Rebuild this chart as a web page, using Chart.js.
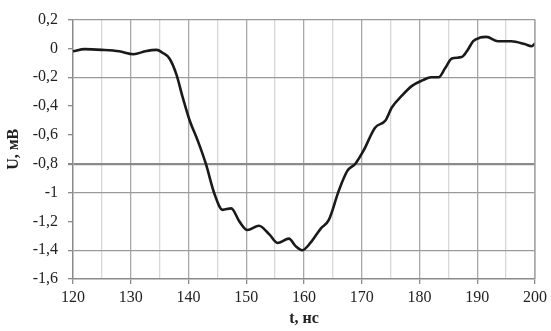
<!DOCTYPE html>
<html>
<head>
<meta charset="utf-8">
<script src="https://cdn.jsdelivr.net/npm/chart.js@4/dist/chart.umd.min.js"></script>
<style>
  html, body { margin: 0; padding: 0; background: #fff; }
  #wrap { width: 551px; height: 331px; }
</style>
</head>
<body>
<div id="wrap"><canvas id="myChart" width="551" height="331"></canvas></div>
<script>
// time, ns
var times = [120, 122, 125, 128, 130.5, 132.5, 134.5, 135.5, 136.7, 137.9, 139, 140.2, 141.6, 143,
  144.5, 145.9, 147.4, 148.8, 150.2, 152.2, 154, 155.4, 157.4, 158.5, 159.7, 161.1, 162.9, 164.3,
  166, 167.5, 168.9, 170.3, 172.3, 174.1, 175.2, 176.9, 178.7, 180.6, 182, 183.3, 184.4, 185.6,
  187.3, 188.2, 189.3, 190.5, 191.6, 193.6, 195.9, 198.2, 199.4, 200];
// voltage, mV
var voltage = [-0.02, -0.005, -0.01, -0.02, -0.04, -0.02, -0.01, -0.03, -0.07, -0.18, -0.34, -0.5, -0.64, -0.8,
  -1.01, -1.12, -1.11, -1.2, -1.26, -1.23, -1.29, -1.35, -1.32, -1.37, -1.4, -1.35, -1.25, -1.19,
  -0.99, -0.85, -0.8, -0.71, -0.55, -0.5, -0.41, -0.33, -0.26, -0.22, -0.2, -0.2, -0.14, -0.07,
  -0.06, -0.02, 0.05, 0.075, 0.08, 0.05, 0.05, 0.03, 0.015, 0.035];
var gridRows = [0.2, -0.2, -0.8, -1, -1.4];

var points = times.map(function (t, i) { return {x: t, y: voltage[i]} });
var serif = '"Liberation Serif", "Times New Roman", serif';
var tickFont = {family: serif, size: 16};
var titleFont = {family: serif, size: 16, weight: 'bold'};

function near(a, b) { return Math.abs(a - b) < 1e-6 }

new Chart(document.getElementById('myChart').getContext('2d'), {
  type: 'line',
  data: {
    datasets: [{
      data: points,
      borderColor: '#1a1a1a',
      borderWidth: 2.6,
      pointRadius: 0,
      tension: 0.4,
      cubicInterpolationMode: 'monotone',
      fill: false
    }]
  },
  options: {
    responsive: false,
    animation: false,
    layout: {padding: {top: 15, right: 14, left: 0, bottom: 0}},
    plugins: {legend: {display: false}, tooltip: {enabled: false}},
    scales: {
      x: {
        type: 'linear',
        min: 120, max: 200,
        border: {color: '#8a8a8a', width: 1.5},
        grid: {
          color: function (ctx) {
            var v = ctx.tick.value;
            if (v == 120) return 'rgba(0,0,0,0)';
            return (v % 10 == 0) ? '#a8a8a8' : '#d8d8d8';
          },
          tickColor: function (ctx) { return (ctx.tick.value % 10 == 0) ? '#8a8a8a' : 'rgba(0,0,0,0)' },
          tickLength: 5,
          lineWidth: 1.3
        },
        ticks: {
          stepSize: 5,
          autoSkip: false,
          maxRotation: 0,
          padding: 4,
          color: '#222',
          font: tickFont,
          callback: function (v) { return v % 10 == 0 ? String(v) : '' }
        },
        title: {display: true, text: 't, нс', color: '#222', font: titleFont, padding: {top: 3, bottom: 3}},
        afterFit: function (s) { s.height = 52 }
      },
      y: {
        min: -1.6, max: 0.2,
        border: {color: '#8a8a8a', width: 1.5},
        grid: {
          color: function (ctx) {
            var v = ctx.tick.value;
            if (near(v, -0.8)) return '#8a8a8a';
            for (var i = 0; i < gridRows.length; i++) if (near(v, gridRows[i])) return '#9a9a9a';
            return 'rgba(0,0,0,0)';
          },
          lineWidth: function (ctx) { return near(ctx.tick.value, -0.8) ? 2.2 : 1.3 },
          tickColor: '#8a8a8a',
          tickLength: 5
        },
        ticks: {
          stepSize: 0.2,
          padding: 10,
          color: '#222',
          font: tickFont,
          callback: function (v) { return String(Math.round(v * 10) / 10).replace('.', ',') }
        },
        title: {display: true, text: 'U, мВ', color: '#222', font: titleFont, padding: {top: 4, bottom: 4}},
        afterFit: function (s) { s.width = 73 }
      }
    }
  },
  plugins: [{
    id: 'rightEdge',
    afterDraw: function (chart) {
      var a = chart.chartArea, c = chart.ctx;
      c.save();
      c.strokeStyle = '#a8a8a8';
      c.lineWidth = 1.3;
      c.beginPath();
      c.moveTo(a.right, a.top);
      c.lineTo(a.right, a.bottom);
      c.stroke();
      c.restore();
    }
  }]
});
</script>
</body>
</html>
